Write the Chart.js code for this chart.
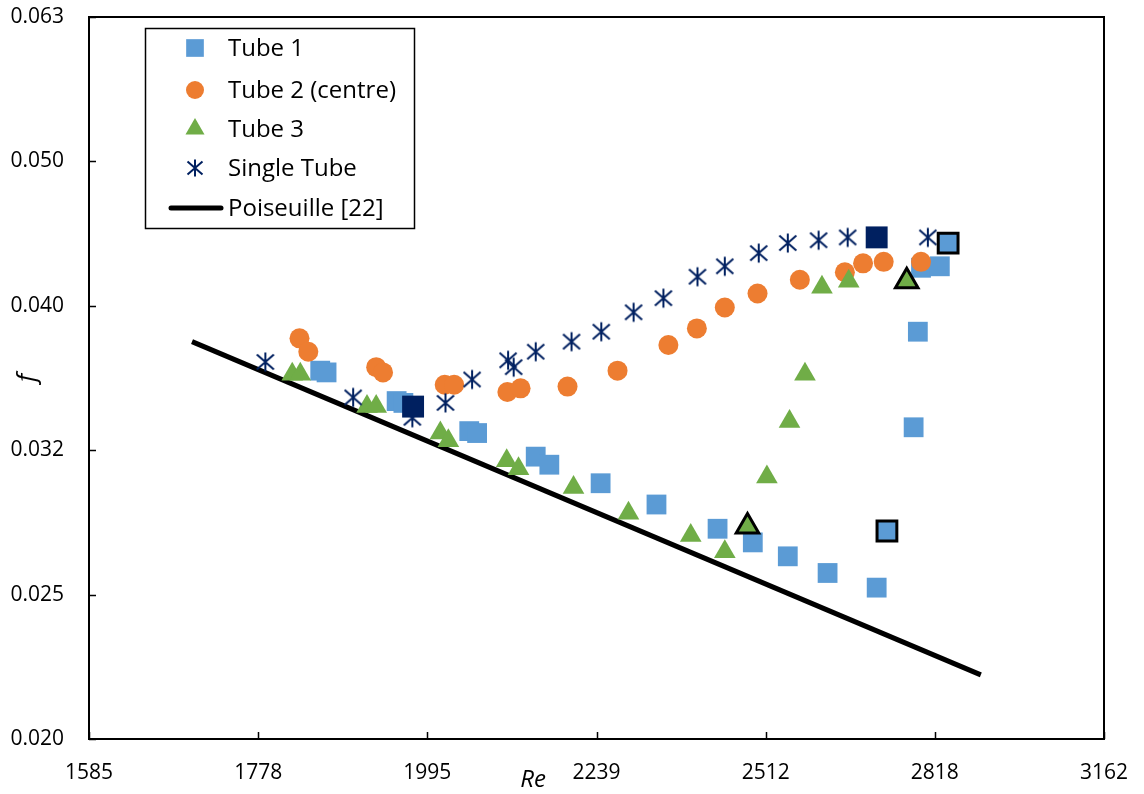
<!DOCTYPE html>
<html>
<head>
<meta charset="utf-8">
<script src="https://cdn.jsdelivr.net/npm/chart.js@4/dist/chart.umd.min.js"></script>
<style>
html,body{margin:0;padding:0;background:#fff;}
#wrap{width:1144px;height:794px;}
</style>
</head>
<body>
<div id="wrap"><canvas id="c" width="1144" height="794"></canvas></div>
<script>
// ---- Axis ticks (log scales) ----
const xTickVals = [1584.89, 1778.28, 1995.26, 2238.72, 2511.89, 2818.38, 3162.28];
const xTickLabels = ['1585', '1778', '1995', '2239', '2512', '2818', '3162'];
const yTickVals = [0.019953, 0.025119, 0.031623, 0.039811, 0.050119, 0.063096];
const yTickLabels = ['0.020', '0.025', '0.032', '0.040', '0.050', '0.063'];

// ---- Series ----
const seriesNames = ['Tube 1', 'Tube 2 (centre)', 'Tube 3', 'Single Tube', 'Poiseuille [22]'];

const tube1Re = [1855, 1863, 1954, 1963, 2053, 2064, 2148, 2168, 2245, 2332, 2431, 2490, 2550, 2620, 2709, 2778, 2786, 2792, 2828];
const tube1F  = [0.0359, 0.0358, 0.0342, 0.0341, 0.0326, 0.0325, 0.0313, 0.0309, 0.0300, 0.0290, 0.0279, 0.0273, 0.0267, 0.0260, 0.0254, 0.0328, 0.0382, 0.0423, 0.0424];
const tube1HiRe = [2728, 2844];
const tube1HiF  = [0.0278, 0.0440];

const tube2Re = [1829, 1840, 1927, 1936, 2019, 2032, 2107, 2126, 2195, 2271, 2351, 2397, 2443, 2498, 2571, 2651, 2684, 2722, 2792];
const tube2F  = [0.0378, 0.0370, 0.0361, 0.0358, 0.0351, 0.0351, 0.0347, 0.0349, 0.0350, 0.0359, 0.0374, 0.0384, 0.0397, 0.0406, 0.0415, 0.0420, 0.0426, 0.0427, 0.0427];

const tube3Re = [1820, 1830, 1915, 1927, 2013, 2024, 2106, 2123, 2204, 2288, 2387, 2443, 2514, 2553, 2580, 2610, 2658];
const tube3F  = [0.0357, 0.0357, 0.0339, 0.0339, 0.0325, 0.0321, 0.0311, 0.0307, 0.0298, 0.0286, 0.0276, 0.0269, 0.0303, 0.0331, 0.0357, 0.0410, 0.0414];
const tube3HiRe = [2481, 2765];
const tube3HiF  = [0.0280, 0.0414];

const singleRe = [1787, 1897, 1975, 2020, 2057, 2108, 2116, 2148, 2201, 2246, 2296, 2343, 2398, 2443, 2500, 2550, 2604, 2656, 2805];
const singleF  = [0.0364, 0.0344, 0.0333, 0.0341, 0.0354, 0.0365, 0.0361, 0.0370, 0.0376, 0.0382, 0.0394, 0.0403, 0.0417, 0.0424, 0.0433, 0.0440, 0.0442, 0.0444, 0.0444];
const singleHiRe = [1976, 2709];
const singleHiF  = [0.0339, 0.0444];

const poiseuilleRe = [1700, 2908];
const poiseuilleF  = [0.0376, 0.0221];

// ---- helpers ----
const pts = (xs, ys) => xs.map((x, i) => ({x: x, y: ys[i]}));

function makeStar(size, color, lw) {
  const cv = document.createElement('canvas');
  cv.width = size; cv.height = size;
  const g = cv.getContext('2d');
  g.strokeStyle = color; g.lineWidth = lw; g.lineCap = 'butt';
  const m = size / 2, p = 1.5;
  g.beginPath();
  g.moveTo(m, p); g.lineTo(m, size - p);
  g.moveTo(p + 1, p + 2); g.lineTo(size - p - 1, size - p - 2);
  g.moveTo(size - p - 1, p + 2); g.lineTo(p + 1, size - p - 2);
  g.stroke();
  return cv;
}
const starImg = makeStar(22, '#002060', 2);
const starLegend = makeStar(20, '#002060', 2);

const C1 = '#5B9BD5', C2 = '#ED7D31', C3 = '#70AD47', C4 = '#002060';

const datasets = [
  {label: seriesNames[0], data: pts(tube1Re, tube1F), showLine: false, pointStyle: 'rect', pointRadius: 14, pointHoverRadius: 14,
   backgroundColor: C1, borderColor: C1, borderWidth: 0, order: 5, legendIdx: 0},
  {label: seriesNames[1], data: pts(tube2Re, tube2F), showLine: false, pointStyle: 'circle', pointRadius: 10, pointHoverRadius: 10,
   backgroundColor: C2, borderColor: C2, borderWidth: 0, order: 4, legendIdx: 1},
  {label: seriesNames[2], data: pts(tube3Re, tube3F), showLine: false, pointStyle: 'triangle', pointRadius: 12.5, pointHoverRadius: 12.5,
   backgroundColor: C3, borderColor: C3, borderWidth: 0, order: 3, legendIdx: 2},
  {label: seriesNames[3], data: pts(singleRe, singleF), showLine: false, pointStyle: starImg, pointRadius: 11,
   backgroundColor: C4, borderColor: C4, order: 2, legendIdx: 3},
  {label: seriesNames[4], data: pts(poiseuilleRe, poiseuilleF), showLine: true, pointRadius: 0, borderColor: '#000', borderWidth: 5,
   backgroundColor: '#000', fill: false, order: 10, legendIdx: 4},
  {label: 'Tube 1 highlight', data: pts(tube1HiRe, tube1HiF), showLine: false, pointStyle: 'rect', pointRadius: 14,
   backgroundColor: C1, borderColor: '#000', borderWidth: 3, order: 1},
  {label: 'Tube 3 highlight', data: pts(tube3HiRe, tube3HiF), showLine: false, pointStyle: 'triangle', pointRadius: 13,
   backgroundColor: C3, borderColor: '#000', borderWidth: 3, order: 1},
  {label: 'Single Tube highlight', data: pts(singleHiRe, singleHiF), showLine: false, pointStyle: 'rect', pointRadius: 15.5,
   backgroundColor: C4, borderColor: C4, borderWidth: 0, order: 1}
];

const FONT = "'Open Sans', 'Noto Sans', sans-serif";

const framePlugin = {
  id: 'frame',
  afterDraw(chart) {
    const ctx = chart.ctx;
    const a = chart.chartArea;
    const xs = chart.scales.x, ys = chart.scales.y;
    ctx.save();
    // frame
    ctx.strokeStyle = '#000';
    ctx.lineWidth = 2;
    ctx.strokeRect(a.left, a.top, a.right - a.left, a.bottom - a.top);
    // inner tick marks
    ctx.lineWidth = 1.5;
    ctx.beginPath();
    xTickVals.forEach(v => {
      const px = Math.round(xs.getPixelForValue(v)) + 0.5;
      ctx.moveTo(px, a.bottom); ctx.lineTo(px, a.bottom - 7);
    });
    yTickVals.forEach(v => {
      const py = Math.round(ys.getPixelForValue(v)) + 0.5;
      ctx.moveTo(a.left, py); ctx.lineTo(a.left + 7, py);
    });
    ctx.stroke();

    // axis titles
    ctx.fillStyle = '#000';
    ctx.font = "italic 24px " + FONT;
    ctx.textAlign = 'center';
    ctx.textBaseline = 'middle';
    ctx.fillText('Re', 533, 780);
    ctx.save();
    ctx.translate(28, (a.top + a.bottom) / 2);
    ctx.rotate(-Math.PI / 2);
    ctx.font = "italic 26px " + FONT;
    ctx.fillText('f', 0, 0);
    ctx.restore();

    // legend
    const bx = 145, by = 28, bw = 269, bh = 200;
    ctx.fillStyle = '#fff';
    ctx.fillRect(bx, by, bw, bh);
    ctx.strokeStyle = '#000';
    ctx.lineWidth = 1.5;
    ctx.strokeRect(bx + 0.5, by + 0.5, bw, bh);
    const rows = [48, 90, 129, 168, 208];
    const mx = 195, tx = 228;
    ctx.font = "24px " + FONT;
    ctx.textAlign = 'left';
    ctx.textBaseline = 'middle';
    chart.data.datasets.forEach(ds => {
      if (ds.legendIdx === undefined) return;
      const y = rows[ds.legendIdx];
      if (ds.showLine) {
        ctx.strokeStyle = ds.borderColor;
        ctx.lineWidth = ds.borderWidth;
        ctx.lineCap = 'round';
        ctx.beginPath();
        ctx.moveTo(171, y); ctx.lineTo(221, y);
        ctx.stroke();
      } else if (ds.pointStyle === starImg) {
        ctx.drawImage(starLegend, mx - 10, y - 10);
      } else {
        const r = ds.pointStyle === 'rect' ? 12.5 : (ds.pointStyle === 'circle' ? 9 : 11);
        ctx.fillStyle = ds.backgroundColor;
        ctx.beginPath();
        Chart.helpers.drawPoint(ctx, {pointStyle: ds.pointStyle, radius: r, borderWidth: 0, rotation: 0}, mx, y);
      }
      ctx.fillStyle = '#000';
      ctx.fillText(ds.label, tx, y + 1);
    });
    ctx.restore();
  }
};

new Chart(document.getElementById('c'), {
  type: 'scatter',
  data: {datasets: datasets},
  options: {
    responsive: false,
    devicePixelRatio: 1,
    animation: false,
    layout: {padding: {left: 0, top: 17, right: 40, bottom: 0}},
    plugins: {legend: {display: false}, tooltip: {enabled: false}, title: {display: false}},
    scales: {
      x: {
        type: 'logarithmic',
        min: xTickVals[0], max: xTickVals[xTickVals.length - 1],
        afterBuildTicks: s => { s.ticks = xTickVals.map(v => ({value: v})); },
        afterFit: s => { s.height = 55; s.paddingLeft = 0; s.paddingRight = 0; },
        grid: {display: false, drawTicks: false},
        border: {display: false},
        ticks: {
          autoSkip: false, maxRotation: 0, padding: 21, color: '#000',
          font: {family: FONT, size: 21},
          callback: (v, i) => xTickLabels[i]
        }
      },
      y: {
        type: 'logarithmic',
        min: yTickVals[0], max: yTickVals[yTickVals.length - 1],
        afterBuildTicks: s => { s.ticks = yTickVals.map(v => ({value: v})); },
        afterFit: s => { s.width = 89; s.paddingTop = 0; s.paddingBottom = 0; },
        grid: {display: false, drawTicks: false},
        border: {display: false},
        ticks: {
          autoSkip: false, padding: 25, color: '#000',
          font: {family: FONT, size: 21},
          callback: (v, i) => yTickLabels[i]
        }
      }
    }
  },
  plugins: [framePlugin]
});
</script>
</body>
</html>
